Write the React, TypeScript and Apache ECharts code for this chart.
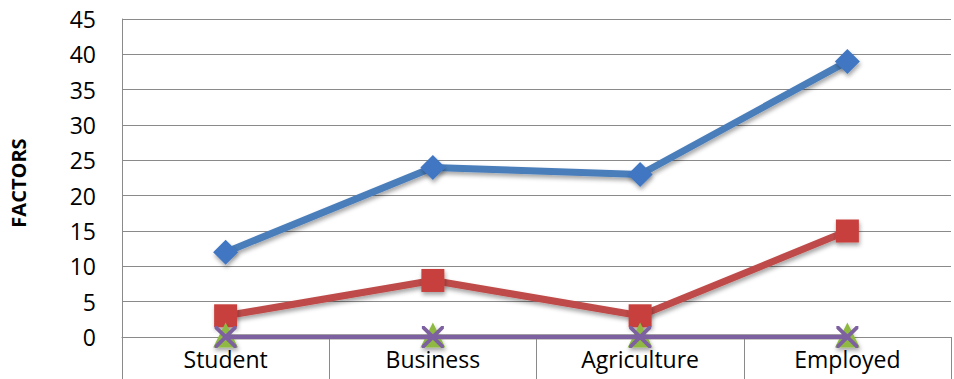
import React, { useEffect, useRef } from "react";
import * as echarts from "echarts";

const categories = ["Student", "Business", "Agriculture", "Employed"];
const seriesBlue = [12, 24, 23, 39];
const seriesRed = [3, 8, 3, 15];
const seriesGreen = [0, 0, 0, 0];
const seriesPurple = [0, 0, 0, 0];
const yAxisName = "FACTORS";

const FONT = "'Open Sans', Lato, sans-serif";
const X_PATH =
  "path://M0,0 L2.4,0 L10,7.6 L17.6,0 L20,0 L20,2.4 L12.4,10 L20,17.6 L20,20 L17.6,20 L10,12.4 L2.4,20 L0,20 L0,17.6 L7.6,10 L0,2.4 Z";

export default function App() {
  const ref = useRef<HTMLDivElement>(null);
  useEffect(() => {
    if (!ref.current) return;
    const chart = echarts.init(ref.current, undefined, { renderer: "svg" });
    const shadow = {
      shadowBlur: 4,
      shadowOffsetX: 1,
      shadowOffsetY: 3,
      shadowColor: "rgba(0,0,0,0.35)",
    };
    chart.setOption({
      animation: false,
      backgroundColor: "#fff",
      grid: { left: 117, right: 3, top: 19, bottom: 42, containLabel: false },
      xAxis: {
        type: "category",
        data: categories,
        boundaryGap: true,
        axisLine: { show: true, lineStyle: { color: "#8a8a8a", width: 1 } },
        axisTick: {
          show: true,
          length: 42,
          interval: 0,
          lineStyle: { color: "#8a8a8a", width: 1 },
        },
        axisLabel: {
          color: "#000",
          fontSize: 23,
          fontFamily: FONT,
          margin: 10,
          interval: 0,
        },
        splitLine: { show: false },
      },
      yAxis: {
        type: "value",
        min: 0,
        max: 45,
        interval: 5,
        name: yAxisName,
        nameLocation: "middle",
        nameRotate: 90,
        nameGap: 94,
        nameTextStyle: {
          fontFamily: FONT,
          fontWeight: "bold",
          fontSize: 20,
          color: "#000",
          padding: [0, 10, 0, 0],
        },
        axisLine: { show: true, lineStyle: { color: "#8a8a8a", width: 1 } },
        axisTick: { show: false },
        axisLabel: {
          color: "#000",
          fontSize: 23,
          fontFamily: FONT,
          margin: 26,
        },
        splitLine: { show: true, lineStyle: { color: "#8a8a8a", width: 1 } },
      },
      series: [
        {
          name: "S1",
          type: "line",
          data: seriesBlue,
          symbol: "diamond",
          symbolSize: 25,
          lineStyle: { color: "#4a7ebb", width: 7, ...shadow },
          itemStyle: { color: "#3f76c2", ...shadow },
          z: 2,
        },
        {
          name: "S2",
          type: "line",
          data: seriesRed,
          symbol: "rect",
          symbolSize: 23,
          lineStyle: { color: "#be4b48", width: 7, ...shadow },
          itemStyle: { color: "#c8403c", ...shadow },
          z: 3,
        },
        {
          name: "S3",
          type: "line",
          data: seriesGreen,
          symbol: "triangle",
          symbolSize: 25,
          symbolOffset: [0, -2],
          lineStyle: { color: "#98b954", width: 5 },
          itemStyle: { color: "#8fb943", ...shadow },
          z: 4,
        },
        {
          name: "S4",
          type: "line",
          data: seriesPurple,
          symbol: X_PATH,
          symbolSize: 22,
          lineStyle: { color: "#7d60a0", width: 5 },
          itemStyle: { color: "#7d60a0" },
          z: 5,
        },
      ],
    });
    return () => chart.dispose();
  }, []);
  return (
    <div
      ref={ref}
      style={{ width: 954, height: 379, position: "absolute", left: 0, top: 0 }}
    />
  );
}
